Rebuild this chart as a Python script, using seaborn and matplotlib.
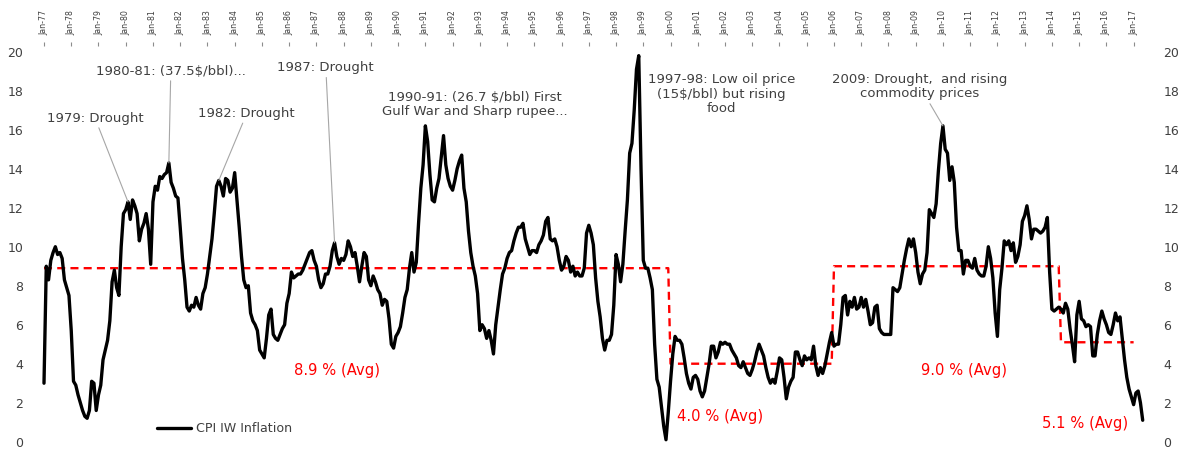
import numpy as np
import pandas as pd
import matplotlib
matplotlib.use("Agg")
import matplotlib.pyplot as plt
import seaborn as sns

# ---------------- data (monthly CPI-IW inflation, %, Jan-1977 .. May-2017) -------------
cpi_1977_81 = [
    3.0, 9.0, 8.3, 9.3, 9.7, 10.0, 9.6, 9.7, 9.4, 8.3, 7.9, 7.5,        # 1977
    5.7, 3.1, 2.9, 2.4, 2.0, 1.6, 1.3, 1.2, 1.6, 3.1, 3.0, 1.6,         # 1978
    2.4, 2.9, 4.2, 4.7, 5.2, 6.2, 8.2, 8.8, 7.9, 7.5, 10.0, 11.7,       # 1979
    11.9, 12.3, 11.4, 12.4, 12.1, 11.7, 10.3, 10.9, 11.2, 11.7, 10.9, 9.1,  # 1980
    12.3, 13.1, 12.9, 13.6, 13.5, 13.7, 13.8, 14.3, 13.3, 13.0, 12.6, 12.5,  # 1981
]
cpi_1982_86 = [
    11.0, 9.4, 8.3, 6.9, 6.7, 7.0, 6.9, 7.4, 7.0, 6.8, 7.6, 7.9,        # 1982
    8.6, 9.5, 10.4, 11.7, 13.1, 13.4, 13.1, 12.6, 13.5, 13.4, 12.8, 13.0,  # 1983
    13.8, 12.4, 11.0, 9.5, 8.3, 7.9, 8.0, 6.6, 6.2, 6.0, 5.7, 4.7,      # 1984
    4.5, 4.3, 5.3, 6.5, 6.8, 5.5, 5.3, 5.2, 5.5, 5.8, 6.0, 7.1,         # 1985
    7.6, 8.7, 8.4, 8.5, 8.6, 8.6, 8.8, 9.1, 9.4, 9.7, 9.8, 9.3,         # 1986
]
cpi_1987_91 = [
    9.0, 8.3, 7.9, 8.1, 8.6, 8.6, 9.0, 9.8, 10.2, 9.5, 9.1, 9.4,        # 1987
    9.3, 9.6, 10.3, 10.0, 9.5, 9.7, 9.0, 8.2, 9.0, 9.7, 9.5, 8.3,       # 1988
    8.0, 8.5, 8.2, 7.8, 7.6, 7.0, 7.3, 7.2, 6.3, 5.0, 4.8, 5.4,         # 1989
    5.6, 5.9, 6.6, 7.4, 7.8, 8.9, 9.7, 8.7, 9.2, 11.2, 13.0, 14.2,      # 1990
    16.2, 15.4, 13.7, 12.4, 12.3, 13.0, 13.5, 14.6, 15.7, 14.2, 13.5, 13.1,  # 1991
]
cpi_1992_96 = [
    12.9, 13.4, 14.0, 14.4, 14.7, 13.0, 12.3, 10.8, 9.7, 9.0, 8.5, 7.6,  # 1992
    5.7, 6.0, 5.8, 5.3, 5.7, 5.2, 4.5, 6.0, 6.9, 7.8, 8.6, 8.9,         # 1993
    9.4, 9.7, 9.8, 10.3, 10.7, 11.0, 11.0, 11.2, 10.4, 10.0, 9.6, 9.8,  # 1994
    9.8, 9.7, 10.1, 10.3, 10.6, 11.3, 11.5, 10.4, 10.3, 10.4, 10.0, 9.3,  # 1995
    8.8, 9.0, 9.5, 9.3, 8.7, 9.0, 8.5, 8.7, 8.5, 8.5, 8.9, 10.7,        # 1996
]
cpi_1997_2001 = [
    11.1, 10.7, 10.1, 8.4, 7.2, 6.4, 5.3, 4.7, 5.2, 5.2, 5.5, 7.0,      # 1997
    9.6, 9.1, 8.2, 9.1, 10.8, 12.4, 14.8, 15.3, 17.0, 19.1, 19.8, 14.0,  # 1998
    9.3, 8.9, 8.9, 8.4, 7.8, 5.0, 3.2, 2.8, 1.8, 0.8, 0.1, 1.5,         # 1999
    3.1, 4.5, 5.4, 5.2, 5.2, 5.0, 4.3, 3.5, 3.0, 2.7, 3.3, 3.4,         # 2000
    3.2, 2.6, 2.3, 2.6, 3.3, 4.0, 4.9, 4.9, 4.3, 4.6, 5.1, 5.0,         # 2001
]
cpi_2002_06 = [
    5.1, 5.0, 5.0, 4.7, 4.5, 4.3, 3.9, 3.8, 4.1, 3.8, 3.5, 3.4,         # 2002
    3.7, 4.1, 4.6, 5.0, 4.7, 4.4, 3.8, 3.3, 3.0, 3.2, 3.0, 3.6,         # 2003
    4.3, 4.2, 3.3, 2.2, 2.8, 3.1, 3.3, 4.6, 4.6, 4.2, 3.9, 4.4,         # 2004
    4.2, 4.3, 4.2, 4.9, 3.9, 3.4, 3.8, 3.5, 3.9, 4.5, 5.1, 5.6,         # 2005
    4.9, 5.0, 5.0, 6.0, 7.4, 7.5, 6.5, 7.2, 6.9, 7.4, 6.8, 6.9,         # 2006
]
cpi_2007_11 = [
    7.4, 6.9, 7.3, 6.7, 6.0, 6.1, 6.9, 7.0, 5.8, 5.6, 5.5, 5.5,         # 2007
    5.5, 5.5, 7.9, 7.8, 7.7, 7.9, 8.6, 9.3, 9.9, 10.4, 10.0, 10.4,      # 2008
    9.7, 8.7, 8.1, 8.6, 8.8, 9.7, 11.9, 11.7, 11.5, 12.2, 13.9, 15.3,   # 2009
    16.2, 15.0, 14.8, 13.4, 14.1, 13.3, 11.0, 9.8, 9.8, 8.6, 9.3, 9.3,  # 2010
    9.0, 8.9, 9.4, 8.8, 8.6, 8.5, 8.5, 9.0, 10.0, 9.4, 8.4, 6.6,        # 2011
]
cpi_2012_16 = [
    5.4, 7.8, 8.9, 10.3, 10.1, 10.3, 9.8, 10.2, 9.2, 9.5, 10.1, 11.3,   # 2012
    11.6, 12.1, 11.4, 10.4, 10.9, 10.9, 10.8, 10.7, 10.8, 11.0, 11.5, 8.7,  # 2013
    6.8, 6.7, 6.8, 6.9, 6.8, 6.6, 7.1, 6.8, 5.8, 5.0, 4.1, 6.5,         # 2014
    7.2, 6.3, 6.2, 5.9, 6.0, 5.9, 4.4, 4.4, 5.5, 6.2, 6.7, 6.3,         # 2015
    6.0, 5.6, 5.5, 6.0, 6.6, 6.2, 6.4, 5.3, 4.2, 3.3, 2.7, 2.3,         # 2016
]
cpi_2017 = [1.9, 2.5, 2.6, 2.0, 1.1]

# period averages (value, first month of the period); last period ends Jan-2017
avg_values = [8.9, 4.0, 9.0, 5.1]
avg_starts = ["1977-01", "2000-01", "2006-01", "2014-05"]
avg_end = "2017-01"
avg_labels = ["8.9 % (Avg)", "4.0 % (Avg)", "9.0 % (Avg)", "5.1 % (Avg)"]

y_ticks = list(range(0, 21, 2))
series_name = "CPI IW Inflation"

# ---------------- build frame ----------------
cpi = np.array(cpi_1977_81 + cpi_1982_86 + cpi_1987_91 + cpi_1992_96 +
               cpi_1997_2001 + cpi_2002_06 + cpi_2007_11 + cpi_2012_16 + cpi_2017)
dates = pd.date_range("1977-01-01", periods=len(cpi), freq="MS")
avg = np.full(len(cpi), np.nan)
for v, s in zip(avg_values, avg_starts):
    avg[dates >= pd.Timestamp(s)] = v
avg[dates > pd.Timestamp(avg_end)] = np.nan

df = pd.DataFrame({"m": np.arange(len(cpi)), "cpi": cpi, "avg": avg})
jan_idx = df["m"][dates.month == 1].to_numpy()
jan_lbl = [d.strftime("Jan-%y") for d in dates[dates.month == 1]]

# ---------------- style ----------------
sns.set_style("white")
plt.rcParams["font.family"] = ["DejaVu Sans"]
TXT = "#404040"
RED = "#FF0000"

W, H = 1184, 449
fig = plt.figure(figsize=(W / 100, H / 100), dpi=100)
x0, x1, yb, yt = 44.0, 1142.7, 441.7, 42.0
ax = fig.add_axes([x0 / W, (H - yb) / H, (x1 - x0) / W, (yb - yt) / H])

sns.lineplot(data=df, x="m", y="avg", ax=ax, color=RED, lw=1.7,
             linestyle=(0, (3.4, 2.2)), estimator=None, errorbar=None, legend=False)
sns.lineplot(data=df, x="m", y="cpi", ax=ax, color="black", lw=2.4,
             estimator=None, errorbar=None, label=series_name)
for ln in ax.get_lines():
    ln.set_clip_on(False)

ax.set_xlim(0, len(cpi) - 1)
ax.set_ylim(0, 20.5)
ax.set_xlabel("")
ax.set_ylabel("")
for s in ax.spines.values():
    s.set_visible(False)

# x axis on top with rotated month labels
ax.xaxis.tick_top()
ax.set_xticks(jan_idx)
ax.set_xticklabels(jan_lbl)
ax.tick_params(axis="x", top=True, bottom=False, labeltop=True, labelbottom=False,
               labelrotation=90, labelsize=5.7, pad=5, length=3, direction="in",
               color="#8c8c8c", width=0.8, labelcolor=TXT)

ax.set_yticks(y_ticks)
ax.set_yticklabels([str(t) for t in y_ticks])
ax.tick_params(axis="y", left=False, right=False, labelleft=True, labelright=True,
               labelsize=9, pad=11.5, labelcolor=TXT)

# legend
h, l = ax.get_legend_handles_labels()
ax.legend(h, l, loc="center left", bbox_to_anchor=((157 - x0) / (x1 - x0), (yb - 429) / (yb - yt)),
          frameon=False, borderaxespad=0, borderpad=0, handlelength=2.7,
          handletextpad=0.35, fontsize=9.1, labelcolor=TXT)

# helpers: pixel -> data
def px(x):
    return (x - x0) / 2.27

def py(y):
    return (yb - y) / 19.5

lead = dict(arrowstyle="-", color="#A6A6A6", lw=0.8, shrinkA=0, shrinkB=0)
notes = [
    ("1979: Drought", 37, (95, 118)),
    ("1980-81: (37.5$/bbl)...", 55, (170.8, 71)),
    ("1982: Drought", 77, (246.8, 113.3)),
    ("1987: Drought", 128, (325.8, 67.7)),
    ("2009: Drought,  and rising\ncommodity prices", 396, (920, 86.7)),
]
for txt, m, (tx, ty) in notes:
    ax.annotate(txt, xy=(m, cpi[m]), xytext=(px(tx), py(ty)), ha="center", va="center",
                fontsize=9.5, color=TXT, arrowprops=lead, linespacing=1.15,
                annotation_clip=False)

ax.text(px(475), py(104.5), "1990-91: (26.7 $/bbl) First\nGulf War and Sharp rupee...",
        ha="center", va="center", fontsize=9.5, color=TXT, linespacing=1.15)
ax.text(px(721.7), py(94), "1997-98: Low oil price\n(15$/bbl) but rising\nfood",
        ha="center", va="center", fontsize=9.5, color=TXT, linespacing=1.15)

red_pos = [(336.7, 370), (720, 416.7), (964.2, 370), (1084.7, 423.3)]
for lbl, (tx, ty) in zip(avg_labels, red_pos):
    ax.text(px(tx), py(ty), lbl, ha="center", va="center", fontsize=10.6, color=RED)

fig.savefig("out.png", dpi=100)
